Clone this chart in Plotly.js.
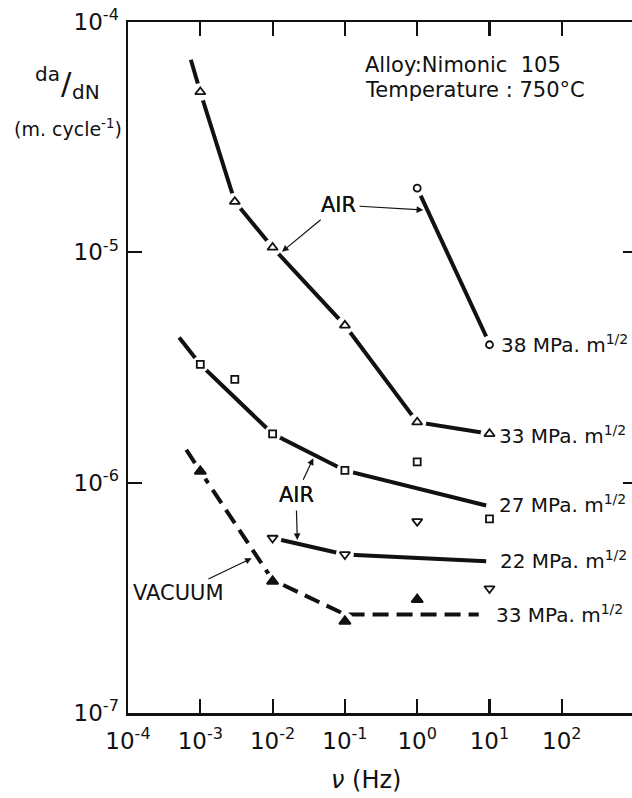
<!DOCTYPE html>
<html><head><meta charset="utf-8">
<script src="https://cdn.plot.ly/plotly-3.0.1.min.js"></script>
<style>html,body{margin:0;padding:0;background:#fff;overflow:hidden;width:632px;height:798px}#c{width:640px;height:798px}</style>
</head><body><div id="c"></div><script>
// ---- tick labels ----
const xTickVals = [1e-4, 1e-3, 1e-2, 1e-1, 1, 10, 100];
const xTickText = ['10<sup>-4</sup>', '10<sup>-3</sup>', '10<sup>-2</sup>', '10<sup>-1</sup>', '10<sup>0</sup>', '10<sup>1</sup>', '10<sup>2</sup>'];
const yTickVals = [1e-7, 1e-6, 1e-5, 1e-4];
const yTickText = ['10<sup>-7</sup>', '10<sup>-6</sup>', '10<sup>-5</sup>', '10<sup>-4</sup>'];

// ---- measured points (frequency Hz, da/dN m/cycle) ----
const air38X = [1, 10];
const air38Y = [1.90e-5, 3.97e-6];
const air33X = [1e-3, 3e-3, 1e-2, 1e-1, 1, 10];
const air33Y = [4.97e-5, 1.66e-5, 1.05e-5, 4.82e-6, 1.83e-6, 1.63e-6];
const air27X = [1e-3, 3e-3, 1e-2, 1e-1, 1, 10];
const air27Y = [3.26e-6, 2.81e-6, 1.63e-6, 1.13e-6, 1.23e-6, 6.97e-7];
const air22X = [1e-2, 1e-1, 1, 10];
const air22Y = [5.75e-7, 4.88e-7, 6.79e-7, 3.47e-7];
const vac33X = [1e-3, 1e-2, 1e-1, 1];
const vac33Y = [1.12e-6, 3.73e-7, 2.50e-7, 3.11e-7];

// ---- hand-drawn trend lines ----
const fit38X = [1, 9.0];
const fit38Y = [1.90e-5, 4.31e-6];
const fit33X = [7.4e-4, 1e-3, 3e-3, 1e-2, 1e-1, 1, 10];
const fit33Y = [6.86e-5, 4.97e-5, 1.66e-5, 1.05e-5, 4.82e-6, 1.83e-6, 1.63e-6];
const fit27X = [5.1e-4, 1e-3, 1e-2, 1e-1, 9.0];
const fit27Y = [4.27e-6, 3.26e-6, 1.63e-6, 1.13e-6, 7.96e-7];
const fit22X = [1e-2, 1e-1, 9.0];
const fit22Y = [5.75e-7, 4.88e-7, 4.56e-7];
const fitVacX = [6.4e-4, 1e-3, 1e-2, 1e-1, 7.1];
const fitVacY = [1.39e-6, 1.12e-6, 3.78e-7, 2.68e-7, 2.68e-7];

const FONT = 'DejaVu Sans';
const INK = '#111';

// layout geometry (pixels)
const L = 128, T = 22, W = 509, H = 691;
function px(x) { return (x - L) / W; }
function py(y) { return (T + H - y) / H; }

function fitLine(x, y, dash) {
  return {x: x, y: y, mode: 'lines', type: 'scatter', hoverinfo: 'skip',
    line: {color: INK, width: 4, dash: dash || 'solid'}, showlegend: false};
}
function halo(x, y, s) {
  return {x: x, y: y, mode: 'markers', type: 'scatter', hoverinfo: 'skip',
    marker: {symbol: 'circle', size: s, color: '#fff', line: {width: 0}}, showlegend: false};
}
function pts(x, y, sym, s, fill) {
  return {x: x, y: y, mode: 'markers', type: 'scatter',
    marker: {symbol: sym, size: s, color: fill, line: {color: INK, width: 1.8}}, showlegend: false};
}

const traces = [
  fitLine(fit38X, fit38Y), fitLine(fit33X, fit33Y), fitLine(fit27X, fit27Y),
  fitLine(fit22X, fit22Y), fitLine(fitVacX, fitVacY, '16px,8px'),
  halo(air38X, air38Y, 17), halo(air33X, air33Y, 18), halo(air27X, air27Y, 17),
  halo(air22X, air22Y, 18), halo(vac33X, vac33Y, 18),
  pts(air38X, air38Y, 'circle', 7, '#fff'),
  pts(air33X, air33Y, 'triangle-up', 9, '#fff'),
  pts(air27X, air27Y, 'square', 7, '#fff'),
  pts(air22X, air22Y, 'triangle-down', 9, '#fff'),
  pts(vac33X, vac33Y, 'triangle-up', 10, INK)
];

function txt(text, x, y, size, xa, extra) {
  return Object.assign({text: text, xref: 'paper', yref: 'paper', x: px(x), y: py(y),
    showarrow: false, xanchor: xa || 'center', yanchor: 'middle',
    font: {family: FONT, size: size, color: INK}}, extra || {});
}
function arrow(text, tipX, tipY, ax, ay) {
  return {text: text, xref: 'paper', yref: 'paper', x: px(tipX), y: py(tipY),
    ax: ax, ay: ay, showarrow: true, arrowhead: 2, arrowsize: 1.1, arrowwidth: 1.2,
    arrowcolor: INK, standoff: 0, startstandoff: 2,
    font: {family: FONT, size: 21, color: INK}};
}

const annotations = [
  txt('Alloy:Nimonic\u00a0\u00a0105', 363, 65, 21, 'left'),
  txt('Temperature : 750°C', 363, 90, 21, 'left'),
  txt('da', 47, 74, 20),
  txt('/', 66, 83, 31),
  txt('dN', 86, 92, 20),
  txt('(m. cycle<sup>-1</sup>)', 68, 128, 19),
  txt('<i>ν</i> (Hz)', 366, 780, 24),
  arrow('AIR', 423.2, 210, -84.6, -5),
  arrow('AIR', 282, 251.7, 56.6, -46.7),
  arrow('AIR', 313.3, 458.3, -17.3, 36.7),
  arrow('AIR', 297.3, 540, -1.3, -45),
  arrow('VACUUM', 251.7, 558.3, -73.4, 35),
  txt('38 MPa. m<sup>1/2</sup>', 499, 344, 20, 'left'),
  txt('33 MPa. m<sup>1/2</sup>', 497, 435, 20, 'left'),
  txt('27 MPa. m<sup>1/2</sup>', 497, 504, 20, 'left'),
  txt('22 MPa. m<sup>1/2</sup>', 498, 560, 20, 'left'),
  txt('33 MPa. m<sup>1/2</sup>', 494, 614, 20, 'left')
];

const axisCommon = {
  type: 'log', showgrid: false, zeroline: false, showline: true, linecolor: INK, linewidth: 2.5,
  mirror: 'ticks', ticks: 'inside', ticklen: 14, tickwidth: 2.2, tickcolor: INK,
  tickmode: 'array', tickfont: {family: FONT, size: 23, color: INK}
};

const layout = {
  width: 640, height: 798,
  margin: {l: L, r: 640 - L - W, t: T, b: 798 - T - H, pad: 0},
  paper_bgcolor: '#fff', plot_bgcolor: '#fff',
  xaxis: Object.assign({}, axisCommon, {range: [-4, -4 + W / 72.3], tickvals: xTickVals, ticktext: xTickText, ticklabelstandoff: 6}),
  yaxis: Object.assign({}, axisCommon, {range: [-7, -4], tickvals: yTickVals, ticktext: yTickText, ticklabelstandoff: 2}),
  annotations: annotations,
  showlegend: false
};

Plotly.newPlot('c', traces, layout, {displayModeBar: false, staticPlot: true});
</script></body></html>
